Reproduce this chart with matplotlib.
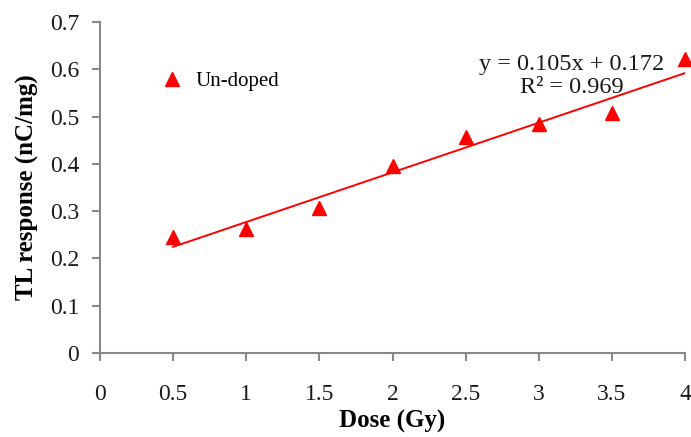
import matplotlib
matplotlib.use("Agg")
import matplotlib.pyplot as plt
import numpy as np

dose = [0.5, 1.0, 1.5, 2.0, 2.5, 3.0, 3.5, 4.0]
tl_response = [0.245, 0.263, 0.306, 0.396, 0.457, 0.485, 0.507, 0.621]
slope, intercept = 0.105, 0.172
x_ticks = [0, 0.5, 1, 1.5, 2, 2.5, 3, 3.5, 4]
x_tick_labels = ["0", "0.5", "1", "1.5", "2", "2.5", "3", "3.5", "4"]
y_ticks = [0, 0.1, 0.2, 0.3, 0.4, 0.5, 0.6, 0.7]
y_tick_labels = ["0", "0.1", "0.2", "0.3", "0.4", "0.5", "0.6", "0.7"]

plt.rcParams['font.family'] = ['Liberation Serif', 'DejaVu Serif']

fig = plt.figure(figsize=(6.91, 4.37), dpi=100)
ax = fig.add_axes([100/691, 1 - 353/437, (685-100)/691, (353-22)/437])

ax.plot(dose, tl_response, linestyle='none', marker='^', color='#ff0000',
        markersize=10, clip_on=False, zorder=3, label='Un-doped')
xl = np.array([dose[0], dose[-1]])
ax.plot(xl, slope * xl + intercept, color='#ff0000', linewidth=1.4, zorder=2)

ax.set_xlim(0, 4)
ax.set_ylim(0, 0.7)
ax.set_xticks(x_ticks)
ax.set_xticklabels(x_tick_labels)
ax.set_yticks(y_ticks)
ax.set_yticklabels(y_tick_labels)

for side in ['top', 'right']:
    ax.spines[side].set_visible(False)
for side in ['left', 'bottom']:
    ax.spines[side].set_color('#888888')
    ax.spines[side].set_linewidth(1.5)
ax.tick_params(axis='both', colors='#888888', labelcolor='#1a1a1a',
               length=6, width=1.5, labelsize=17)
ax.tick_params(axis='x', pad=16)
ax.tick_params(axis='y', pad=9)

ax.set_xlabel('Dose (Gy)', fontsize=18, fontweight='bold', labelpad=4)
ax.set_ylabel('TL response (nC/mg)', fontsize=18, fontweight='bold', labelpad=8)

ax.legend(loc='upper left', bbox_to_anchor=(0.073, 0.876), frameon=False,
          fontsize=15, handletextpad=0.15, borderaxespad=0)

ax.text(3.223, 0.586, 'y = 0.105x + 0.172\nR² = 0.969', ha='center', va='center',
        fontsize=17.5, color='#1a1a1a', linespacing=1.15)

fig.savefig('out.png', dpi=100)
